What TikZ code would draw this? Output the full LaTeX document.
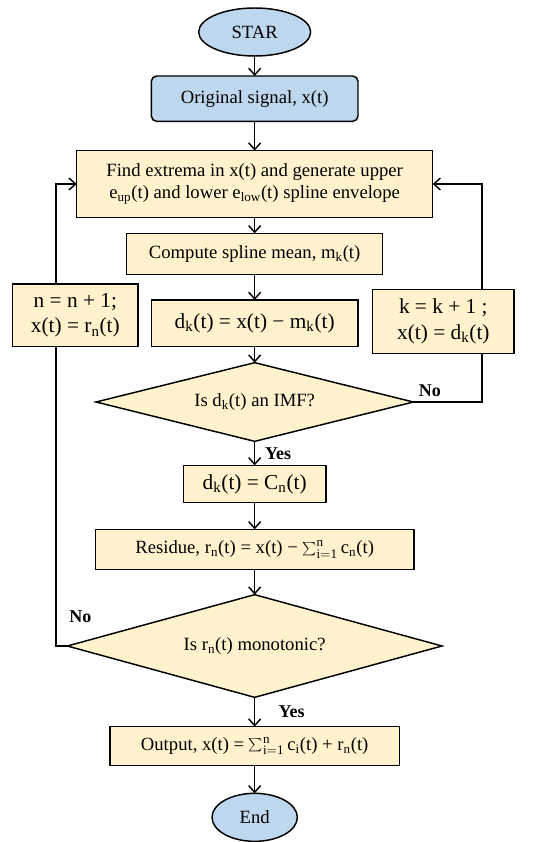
\documentclass[tikz,border=0pt]{standalone}
\usepackage{fontspec}
\setmainfont{Liberation Serif}
\usetikzlibrary{shapes.geometric, arrows.meta, positioning}

\definecolor{termblue}{RGB}{189,215,238}
\definecolor{boxyellow}{RGB}{255,242,204}
\newcommand{\sumin}{$\sum\nolimits_{\mathrm{i=1}}^{\mathrm{n}}$\,}

\begin{document}
\begin{tikzpicture}[
    font=\fontsize{14}{16.5}\selectfont,
    term/.style={ellipse, draw=black, fill=termblue, line width=1.1pt, inner sep=0pt, outer sep=0pt},
    bluebox/.style={rectangle, rounded corners=4pt, draw=black, fill=termblue, line width=1.1pt, align=center, outer sep=0pt},
    box/.style={rectangle, draw=black, fill=boxyellow, line width=1.1pt, align=center, inner sep=2pt, outer sep=0pt},
    formula/.style={font=\fontsize{16}{19}\selectfont},
    decision/.style={diamond, draw=black, fill=boxyellow, line width=1.1pt, aspect=4, inner sep=0pt, outer sep=0pt, align=center},
    line/.style={line width=1.1pt},
    arrow/.style={line width=1.1pt, -{Straight Barb[length=5pt, width=9pt]}},
    answer/.style={font=\fontsize{13.5}{15}\selectfont\bfseries}
]
\useasboundingbox (0,0) rectangle (401.25pt,-631.5pt);

% Nodes
\node (start) [term, minimum width=84pt, minimum height=36pt] at (191pt,-24pt) {STAR};
\node (orig) [bluebox, below=15pt of start, minimum width=155pt, minimum height=34pt] {Original signal, x(t)};
\node (find) [box, below=22pt of orig, minimum width=267pt, minimum height=50pt] {Find extrema in x(t) and generate upper\\e\textsubscript{up}(t) and lower e\textsubscript{low}(t) spline envelope};
\node (mean) [box, below=12pt of find, minimum width=192pt, minimum height=31pt] {Compute spline mean, m\textsubscript{k}(t)};
\node (diff) [box, formula, below=19pt of mean, minimum width=155pt, minimum height=35pt] {d\textsubscript{k}(t) = x(t) − m\textsubscript{k}(t)};
\node (imf) [decision, below=12pt of diff, minimum width=238pt, minimum height=59pt] {Is d\textsubscript{k}(t) an IMF?};
\node (imfout) [box, formula, below=18pt of imf, minimum width=107pt, minimum height=28pt] {d\textsubscript{k}(t) = C\textsubscript{n}(t)};
\node (resid) [box, below=20pt of imfout, minimum width=239pt, minimum height=30pt] {Residue, r\textsubscript{n}(t) = x(t) − \sumin c\textsubscript{n}(t)};
\node (mono) [decision, below=19pt of resid, minimum width=281pt, minimum height=77pt] {Is r\textsubscript{n}(t) monotonic?};
\node (output) [box, below=22pt of mono, minimum width=217pt, minimum height=29pt] {Output, x(t) = \sumin c\textsubscript{i}(t) + r\textsubscript{n}(t)};
\node (stop) [term, below=21pt of output, minimum width=64pt, minimum height=36pt] {End};

\node (nextn) [box, formula, left=10pt of diff, yshift=6pt, minimum width=94pt, minimum height=47pt] {n = n + 1;\\x(t) = r\textsubscript{n}(t)};
\node (nextk) [box, formula, right=11pt of diff, yshift=1.5pt, minimum width=106pt, minimum height=48pt] {k = k + 1 ;\\x(t) = d\textsubscript{k}(t)};

\coordinate (lx) at (42pt,0);
\coordinate (rx) at (361.5pt,0);

% Arrows
\draw [arrow] (start) -- (orig);
\draw [arrow] (orig) -- (find);
\draw [arrow] (find) -- (mean);
\draw [arrow] (mean) -- (diff);
\draw [arrow] (diff) -- (imf);
\draw [arrow] (imf) -- node[answer, right, xshift=4pt] {Yes} (imfout);
\draw [arrow] (imfout) -- (resid);
\draw [arrow] (resid) -- (mono);
\draw [arrow] (mono) -- node[answer, right, xshift=14pt] {Yes} (output);
\draw [arrow] (output) -- (stop);

% Loops
\draw [line] (imf.east) -| node[answer, above, pos=0.12] {No} (rx |- nextk.south);
\draw [arrow] (rx |- nextk.north) |- (find.east);
\draw [line] (mono.west) -| (lx |- nextn.south);
\draw [arrow] (lx |- nextn.north) |- (find.west);
\node (noleft) [answer, above right=14pt and -2pt of mono.west] {No};

\end{tikzpicture}
\end{document}
